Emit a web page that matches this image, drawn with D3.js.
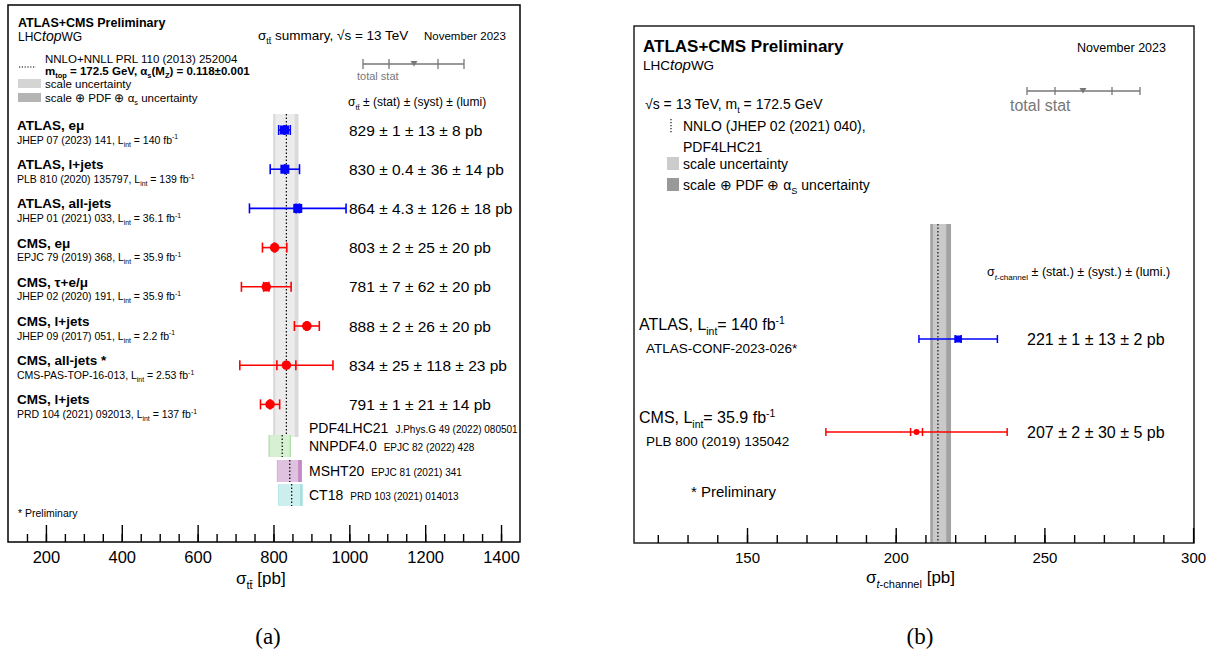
<!DOCTYPE html>
<html lang="en">
<head>
<meta charset="utf-8" />
<title>Top quark cross-section summaries</title>
<script src="https://d3js.org/d3.v7.min.js"></script>
<style>
  body { margin: 0; background: #fff; }
  svg { font-family: "Liberation Sans", Arial, sans-serif; }
</style>
</head>
<body>
<svg id="chart" width="1220" height="658"></svg>
<script>
// ---------- panel (a): ttbar inclusive cross-section, 13 TeV
const ttNames = ["ATLAS, eμ", "ATLAS, l+jets", "ATLAS, all-jets", "CMS, eμ", "CMS, τ+e/μ", "CMS, l+jets", "CMS, all-jets *", "CMS, l+jets"];
const ttRefs = ["JHEP 07 (2023) 141,", "PLB 810 (2020) 135797,", "JHEP 01 (2021) 033,", "EPJC 79 (2019) 368,", "JHEP 02 (2020) 191,", "JHEP 09 (2017) 051,", "CMS-PAS-TOP-16-013,", "PRD 104 (2021) 092013,"];
const ttLumi = ["140", "139", "36.1", "35.9", "35.9", "2.2", "2.53", "137"];
const ttExp = ["ATLAS", "ATLAS", "ATLAS", "CMS", "CMS", "CMS", "CMS", "CMS"];
const ttValue = [829, 830, 864, 803, 781, 888, 834, 791];
const ttStat = [1, 0.4, 4.3, 2, 7, 2, 25, 1];
const ttSyst = [13, 36, 126, 25, 62, 26, 118, 21];
const ttLumiUnc = [8, 14, 18, 20, 20, 20, 23, 14];

// theory predictions with different PDF sets (first one is the main band)
const pdfNames = ["PDF4LHC21", "NNPDF4.0", "MSHT20", "CT18"];
const pdfRefs = ["J.Phys.G 49 (2022) 080501", "EPJC 82 (2022) 428", "EPJC 81 (2021) 341", "PRD 103 (2021) 014013"];
const pdfCentral = [834, 823, 843, 848];
const pdfScaleLo = [805, 790, 810, 813];
const pdfScaleHi = [856, 843, 865, 870];
const pdfTotLo = [799, 787, 809, 812];
const pdfTotHi = [866, 846, 875, 877];
const pdfLight = ["#ececec", "#d6f0d2", "#dfc1e0", "#cdeeee"];
const pdfDark = ["#dadada", "#a9dea1", "#c38bc6", "#a3e0e0"];

const ttTicks = [200, 400, 600, 800, 1000, 1200, 1400];

// ---------- panel (b): t-channel single top, 13 TeV
const tcNames = ["ATLAS", "CMS"];
const tcLumi = ["140", "35.9"];
const tcRefs = ["ATLAS-CONF-2023-026*", "PLB 800 (2019) 135042"];
const tcValue = [221, 207];
const tcStat = [1, 2];
const tcSyst = [13, 30];
const tcLumiUnc = [2, 5];
const tcTheory = [214.2];
const tcScaleLo = [212.5];
const tcScaleHi = [217.0];
const tcTotLo = [211.6];
const tcTotHi = [218.6];

const tcTicks = [150, 200, 250, 300];

const svg = d3.select("#chart");
const blue = "#0000ff", red = "#ff0000";

// text with sub/superscripts
function rich(g, x, y, parts, size) {
  const t = g.append("text").attr("x", x).attr("y", y).style("font-size", size + "px");
  let shift = 0;
  parts.forEach(p => {
    const s = typeof p === "string" ? {t: p} : p;
    let target = 0;
    if (s.sub) target = 0.3 * size;
    if (s.sup) target = -0.4 * size;
    const ts = t.append("tspan").attr("dy", target - shift).text(s.t);
    shift = target;
    if (s.sub || s.sup) ts.style("font-size", (size * 0.65) + "px");
    if (s.it) ts.style("font-style", "italic");
    if (s.b) ts.style("font-weight", "bold");
    if (s.size) ts.style("font-size", s.size + "px");
  });
  return t;
}

function errBar(g, x, y, v, stat, tot, color, capH, lw) {
  g.append("line").attr("x1", x(v - tot)).attr("x2", x(v + tot))
    .attr("y1", y).attr("y2", y).attr("stroke", color).attr("stroke-width", lw);
  [v - tot, v + tot, v - stat, v + stat].forEach(e => {
    g.append("line").attr("x1", x(e)).attr("x2", x(e))
      .attr("y1", y - capH / 2).attr("y2", y + capH / 2)
      .attr("stroke", color).attr("stroke-width", lw);
  });
}

function keyBar(g, x0, x1, y, xs, tri, color, h) {
  g.append("line").attr("x1", x0).attr("x2", x1).attr("y1", y).attr("y2", y)
    .attr("stroke", color).attr("stroke-width", 1.3);
  xs.forEach(xx => g.append("line").attr("x1", xx).attr("x2", xx)
    .attr("y1", y - h / 2).attr("y2", y + h / 2).attr("stroke", color).attr("stroke-width", 1.3));
  g.append("path").attr("d", `M${tri - 3.5},${y - 3}L${tri + 3.5},${y - 3}L${tri},${y + 2.5}Z`).attr("fill", color);
}

// inward ticks on the bottom axis: minor ones without labels, major ones labelled
function bottomAxis(g, x, y, minor, major, size, majorLen) {
  const minorG = g.append("g").attr("transform", `translate(0,${y})`);
  minorG.call(d3.axisBottom(x).tickValues(minor).tickSize(-8).tickFormat(""));
  const majorG = g.append("g").attr("transform", `translate(0,${y})`);
  majorG.call(d3.axisBottom(x).tickValues(major).tickSize(-majorLen).tickPadding(9).tickFormat(d3.format("d")));
  [minorG, majorG].forEach(a => {
    a.select(".domain").remove();
    a.selectAll(".tick line").attr("stroke", "#000").attr("stroke-width", 1.4);
    a.selectAll("text").attr("fill", "#000").style("font-size", size + "px")
      .style("font-family", "Liberation Sans, Arial, sans-serif");
  });
}

// ================= panel (a) =================
const A = {left: 8, right: 520, top: 5, bottom: 542};
const xa = d3.scaleLinear().domain([100, 1450]).range([A.left, A.right]);
const ya = d3.scalePoint().domain(d3.range(ttNames.length)).range([130, 404.4]);
const ga = svg.append("g");

// theory band (PDF4LHC21)
ga.append("rect").attr("x", xa(pdfTotLo[0])).attr("width", xa(pdfTotHi[0]) - xa(pdfTotLo[0]))
  .attr("y", 114).attr("height", 323).attr("fill", pdfDark[0]);
ga.append("rect").attr("x", xa(pdfScaleLo[0])).attr("width", xa(pdfScaleHi[0]) - xa(pdfScaleLo[0]))
  .attr("y", 114).attr("height", 323).attr("fill", pdfLight[0]);
ga.append("line").attr("x1", xa(pdfCentral[0])).attr("x2", xa(pdfCentral[0]))
  .attr("y1", 114).attr("y2", 437).attr("stroke", "#000").attr("stroke-width", 1.2)
  .attr("stroke-dasharray", "1.5,2");

// other PDF sets
const pdfY = [428, 446, 471, 495];
for (let i = 1; i < pdfNames.length; i++) {
  const y0 = pdfY[i] - 11;
  ga.append("rect").attr("x", xa(pdfTotLo[i])).attr("width", xa(pdfTotHi[i]) - xa(pdfTotLo[i]))
    .attr("y", y0).attr("height", 22).attr("fill", pdfDark[i]);
  ga.append("rect").attr("x", xa(pdfScaleLo[i])).attr("width", xa(pdfScaleHi[i]) - xa(pdfScaleLo[i]))
    .attr("y", y0).attr("height", 22).attr("fill", pdfLight[i]);
  ga.append("line").attr("x1", xa(pdfCentral[i])).attr("x2", xa(pdfCentral[i]))
    .attr("y1", y0).attr("y2", y0 + 22).attr("stroke", "#000").attr("stroke-width", 1.2)
    .attr("stroke-dasharray", "1.5,2");
}
pdfNames.forEach((n, i) => {
  const t = ga.append("text").attr("x", 309).attr("y", pdfY[i] + 5).style("font-size", "14px").text(n);
  const w = t.node().getComputedTextLength();
  ga.append("text").attr("x", 309 + w + 7).attr("y", pdfY[i] + 5).style("font-size", "10px").text(pdfRefs[i]);
});

// measurements
ttNames.forEach((n, i) => {
  const y = ya(i);
  const tot = Math.sqrt(ttStat[i] ** 2 + ttSyst[i] ** 2 + ttLumiUnc[i] ** 2);
  const col = ttExp[i] === "ATLAS" ? blue : red;
  errBar(ga, xa, y, ttValue[i], ttStat[i], tot, col, 10, 1.6);
  if (ttExp[i] === "ATLAS") {
    ga.append("rect").attr("x", xa(ttValue[i]) - 4.5).attr("y", y - 4.5).attr("width", 9).attr("height", 9).attr("fill", col);
  } else {
    ga.append("circle").attr("cx", xa(ttValue[i])).attr("cy", y).attr("r", 4.8).attr("fill", col);
  }
  ga.append("text").attr("x", 17).attr("y", y).style("font-size", "13.5px").style("font-weight", "bold").text(n);
  rich(ga, 17, y + 13.5, [ttRefs[i] + "  L", {t: "int", sub: true}, " = " + ttLumi[i] + " fb", {t: "-1", sup: true}], 10.5);
  ga.append("text").attr("x", 349).attr("y", y + 5.5).style("font-size", "15.5px")
    .text(`${ttValue[i]} ± ${ttStat[i]} ± ${ttSyst[i]} ± ${ttLumiUnc[i]} pb`);
});

// header and legend
ga.append("text").attr("x", 18).attr("y", 27).style("font-size", "12.5px").style("font-weight", "bold").text("ATLAS+CMS Preliminary");
rich(ga, 18, 41, ["LHC", {t: "top", it: true, size: 14}, "WG"], 12);
rich(ga, 258, 40, ["σ", {t: "tt̄", sub: true}, " summary, √s = 13 TeV"], 13.5);
ga.append("text").attr("x", 424).attr("y", 40).style("font-size", "11.5px").text("November 2023");
ga.append("line").attr("x1", 19).attr("x2", 36).attr("y1", 67).attr("y2", 67)
  .attr("stroke", "#000").attr("stroke-width", 1.2).attr("stroke-dasharray", "1.2,1.6");
ga.append("text").attr("x", 45).attr("y", 63).style("font-size", "11.5px").text("NNLO+NNLL  PRL 110 (2013) 252004");
rich(ga, 45, 75, [{t: "m", b: true}, {t: "top", sub: true, b: true}, {t: " = 172.5 GeV,  α", b: true}, {t: "s", sub: true, b: true},
  {t: "(M", b: true}, {t: "Z", sub: true, b: true}, {t: ") = 0.118±0.001", b: true}], 11.5);
ga.append("rect").attr("x", 18).attr("y", 79).attr("width", 23).attr("height", 9).attr("fill", "#d4d4d4");
ga.append("text").attr("x", 45).attr("y", 88).style("font-size", "11.5px").text("scale uncertainty");
ga.append("rect").attr("x", 18).attr("y", 93).attr("width", 23).attr("height", 9).attr("fill", "#b4b4b4");
rich(ga, 45, 102, ["scale ⊕ PDF ⊕ α", {t: "s", sub: true}, " uncertainty"], 11.5);

keyBar(ga, 363, 464, 64, [363, 389, 438, 464], 414, "#777", 10);
ga.append("text").attr("x", 357).attr("y", 80).style("font-size", "11px").attr("fill", "#777").text("total  stat");
rich(ga, 348, 106, ["σ", {t: "tt̄", sub: true}, " ± (stat) ± (syst) ± (lumi)"], 12);
ga.append("text").attr("x", 18).attr("y", 517).style("font-size", "10.5px").text("* Preliminary");

// frame and axis
ga.append("rect").attr("x", A.left).attr("y", A.top).attr("width", A.right - A.left).attr("height", A.bottom - A.top)
  .attr("fill", "none").attr("stroke", "#000").attr("stroke-width", 1.5);
bottomAxis(ga, xa, A.bottom, d3.range(150, 1450, 50), ttTicks, 16.5, 17);
rich(ga, 236, 584, ["σ", {t: "tt̄", sub: true}, " [pb]"], 17);

// ================= panel (b) =================
const B = {left: 634, right: 1194, top: 26, bottom: 543};
const xb = d3.scaleLinear().domain([112, 300.3]).range([B.left, B.right]);
const yb = d3.scalePoint().domain(d3.range(tcNames.length)).range([339, 432]);
const gb = svg.append("g");

gb.append("rect").attr("x", xb(tcTotLo[0])).attr("width", xb(tcTotHi[0]) - xb(tcTotLo[0]))
  .attr("y", 224).attr("height", B.bottom - 224).attr("fill", "#a2a2a2");
gb.append("rect").attr("x", xb(tcScaleLo[0])).attr("width", xb(tcScaleHi[0]) - xb(tcScaleLo[0]))
  .attr("y", 224).attr("height", B.bottom - 224).attr("fill", "#c9c9c9");
gb.append("line").attr("x1", xb(tcTheory[0])).attr("x2", xb(tcTheory[0]))
  .attr("y1", 224).attr("y2", B.bottom).attr("stroke", "#000").attr("stroke-width", 1.1)
  .attr("stroke-dasharray", "1.5,2");

tcNames.forEach((n, i) => {
  const y = yb(i);
  const tot = Math.sqrt(tcStat[i] ** 2 + tcSyst[i] ** 2 + tcLumiUnc[i] ** 2);
  const col = n === "ATLAS" ? blue : red;
  errBar(gb, xb, y, tcValue[i], tcStat[i], tot, col, 8, 1.5);
  if (n === "ATLAS") {
    gb.append("rect").attr("x", xb(tcValue[i]) - 3.5).attr("y", y - 3.5).attr("width", 7).attr("height", 7).attr("fill", col);
  } else {
    gb.append("circle").attr("cx", xb(tcValue[i])).attr("cy", y).attr("r", 3).attr("fill", col);
  }
  rich(gb, 639, y - 9, [n + ", L", {t: "int", sub: true}, "= " + tcLumi[i] + " fb", {t: "-1", sup: true}], 16);
  gb.append("text").attr("x", 646).attr("y", y + 14).style("font-size", "13.5px").text(tcRefs[i]);
  gb.append("text").attr("x", 1027).attr("y", y + 6).style("font-size", "16px")
    .text(`${tcValue[i]} ± ${tcStat[i]} ± ${tcSyst[i]} ± ${tcLumiUnc[i]} pb`);
});

gb.append("text").attr("x", 643).attr("y", 52).style("font-size", "17px").style("font-weight", "bold").text("ATLAS+CMS Preliminary");
rich(gb, 643, 70, ["LHC", {t: "top", it: true, size: 15}, "WG"], 13.5);
gb.append("text").attr("x", 1077).attr("y", 52).style("font-size", "12.5px").text("November 2023");
rich(gb, 645, 109, ["√s = 13 TeV, m", {t: "t", sub: true}, " = 172.5 GeV"], 14);
gb.append("line").attr("x1", 671).attr("x2", 671).attr("y1", 119).attr("y2", 133)
  .attr("stroke", "#000").attr("stroke-width", 1.1).attr("stroke-dasharray", "1.2,1.8");
gb.append("text").attr("x", 683).attr("y", 131).style("font-size", "14px").text("NNLO (JHEP 02 (2021) 040),");
gb.append("text").attr("x", 683).attr("y", 152).style("font-size", "14px").text("PDF4LHC21");
gb.append("rect").attr("x", 667).attr("y", 157).attr("width", 12).attr("height", 13).attr("fill", "#cccccc");
gb.append("text").attr("x", 683).attr("y", 169).style("font-size", "14px").text("scale uncertainty");
gb.append("rect").attr("x", 667).attr("y", 178).attr("width", 12).attr("height", 13).attr("fill", "#999999");
rich(gb, 683, 190, ["scale ⊕ PDF ⊕ α", {t: "S", sub: true}, " uncertainty"], 14);

keyBar(gb, 1027, 1140, 91, [1027, 1055, 1112, 1140], 1083, "#777", 8);
gb.append("text").attr("x", 1010).attr("y", 111).style("font-size", "16px").attr("fill", "#777").text("total  stat");
rich(gb, 987, 276, ["σ", {t: "t", sub: true, it: true}, {t: "-channel", sub: true}, " ± (stat.) ± (syst.) ± (lumi.)"], 12.5);
gb.append("text").attr("x", 691).attr("y", 497).style("font-size", "15px").text("* Preliminary");

gb.append("rect").attr("x", B.left).attr("y", B.top).attr("width", B.right - B.left).attr("height", B.bottom - B.top)
  .attr("fill", "none").attr("stroke", "#222").attr("stroke-width", 1.5);
bottomAxis(gb, xb, B.bottom, d3.range(120, 300, 10), tcTicks, 15, 15);
rich(gb, 866, 583, ["σ", {t: "t", sub: true, it: true}, {t: "-channel", sub: true}, " [pb]"], 17);

// captions
svg.append("text").attr("x", 268).attr("y", 644).attr("text-anchor", "middle")
  .style("font-family", "Liberation Serif, DejaVu Serif, serif").style("font-size", "23px").text("(a)");
svg.append("text").attr("x", 920).attr("y", 644).attr("text-anchor", "middle")
  .style("font-family", "Liberation Serif, DejaVu Serif, serif").style("font-size", "23px").text("(b)");
</script>
</body>
</html>
